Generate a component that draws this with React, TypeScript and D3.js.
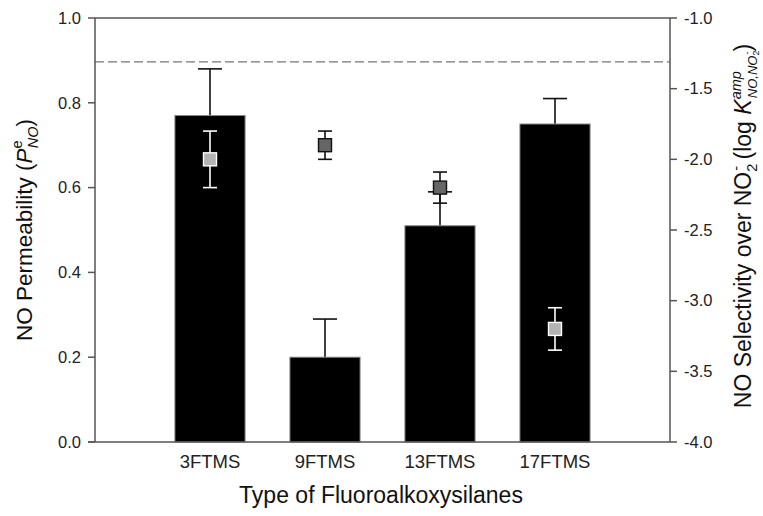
import React from "react";
import * as d3 from "d3";

const categories = ["3FTMS", "9FTMS", "13FTMS", "17FTMS"];
const permeability = [0.77, 0.2, 0.51, 0.75];
const permeabilityErr = [0.11, 0.09, 0.08, 0.06];
const selectivity = [-2.0, -1.9, -2.2, -3.2];
const selectivityErr = [0.2, 0.1, 0.11, 0.15];
const referenceSelectivity = -1.31;
const leftTicks = [0, 0.2, 0.4, 0.6, 0.8, 1.0];
const rightTicks = [-4.0, -3.5, -3.0, -2.5, -2.0, -1.5, -1.0];

const W = 763;
const H = 516;
const M = { left: 95, right: 670, top: 18, bottom: 442 };
const FONT = "'Liberation Sans', Arial, Helvetica, sans-serif";
const AXIS = "#555";

export default function App() {
  const x = d3.scaleLinear().domain([0, categories.length + 1]).range([M.left, M.right]);
  const yL = d3.scaleLinear().domain([0, 1]).range([M.bottom, M.top]);
  const yR = d3.scaleLinear().domain([-4, -1]).range([M.bottom, M.top]);
  const slot = x(1) - x(0);
  const barW = slot * 0.61;
  const capBar = 24;
  const capSq = 14;
  const sq = 13;

  return (
    <svg width={W} height={H} style={{ position: "absolute", left: 0, top: 0, background: "#fff" }} fontFamily={FONT}>
      {/* reference dashed line */}
      <line x1={M.left} x2={M.right} y1={yR(referenceSelectivity)} y2={yR(referenceSelectivity)} stroke="#777" strokeWidth={1.3} strokeDasharray="9,4" />

      {/* bars */}
      {categories.map((c, i) => {
        const cx = x(i + 1);
        const top = yL(permeability[i]);
        const errTop = yL(permeability[i] + permeabilityErr[i]);
        return (
          <g key={"b" + c}>
            <line x1={cx} x2={cx} y1={top} y2={errTop} stroke="#111" strokeWidth={1.6} />
            <line x1={cx - capBar / 2} x2={cx + capBar / 2} y1={errTop} y2={errTop} stroke="#111" strokeWidth={1.6} />
            <rect x={cx - barW / 2} y={top} width={barW} height={yL(0) - top} fill="#000" stroke="#888" strokeWidth={1} />
          </g>
        );
      })}

      {/* squares */}
      {categories.map((c, i) => {
        const cx = x(i + 1);
        const cy = yR(selectivity[i]);
        const eTop = yR(selectivity[i] + selectivityErr[i]);
        const eBot = yR(selectivity[i] - selectivityErr[i]);
        const inside = eTop > yL(permeability[i]);
        const lineC = inside ? "#fff" : "#111";
        const fill = inside ? "#b3b3b3" : "#666";
        return (
          <g key={"s" + c}>
            <line x1={cx} x2={cx} y1={eTop} y2={eBot} stroke={lineC} strokeWidth={1.6} />
            <line x1={cx - capSq / 2} x2={cx + capSq / 2} y1={eTop} y2={eTop} stroke={lineC} strokeWidth={1.6} />
            <line x1={cx - capSq / 2} x2={cx + capSq / 2} y1={eBot} y2={eBot} stroke={lineC} strokeWidth={1.6} />
            <rect x={cx - sq / 2} y={cy - sq / 2} width={sq} height={sq} fill={fill} stroke={lineC} strokeWidth={1.4} />
          </g>
        );
      })}

      {/* frame */}
      <line x1={M.left} x2={M.right} y1={M.top} y2={M.top} stroke={AXIS} strokeWidth={1.5} />
      <line x1={M.left - 7} x2={M.right} y1={M.bottom} y2={M.bottom} stroke={AXIS} strokeWidth={1.5} />
      <line x1={M.left} x2={M.left} y1={M.top} y2={M.bottom} stroke={AXIS} strokeWidth={1.5} />
      <line x1={M.right} x2={M.right} y1={M.top} y2={M.bottom} stroke={AXIS} strokeWidth={1.5} />

      {/* left ticks */}
      {leftTicks.map((t) => (
        <g key={"l" + t}>
          <line x1={M.left - 7} x2={M.left} y1={yL(t)} y2={yL(t)} stroke={AXIS} strokeWidth={1.5} />
          <text x={M.left - 14} y={yL(t)} dy="0.35em" textAnchor="end" fontSize={16.5} fill="#222">{t.toFixed(1)}</text>
        </g>
      ))}
      {/* right ticks */}
      {rightTicks.map((t) => (
        <g key={"r" + t}>
          <line x1={M.right} x2={M.right + 7} y1={yR(t)} y2={yR(t)} stroke={AXIS} strokeWidth={1.5} />
          <text x={M.right + 14} y={yR(t)} dy="0.35em" textAnchor="start" fontSize={16.5} fill="#222">{t.toFixed(1)}</text>
        </g>
      ))}
      {/* x tick labels */}
      {categories.map((c, i) => (
        <text key={"x" + c} x={x(i + 1)} y={468} textAnchor="middle" fontSize={18.5} fill="#222">{c}</text>
      ))}

      {/* axis titles */}
      <text x={381} y={503} textAnchor="middle" fontSize={23} fill="#111">Type of Fluoroalkoxysilanes</text>
      <text transform="translate(32,230) rotate(-90)" textAnchor="middle" fontSize={22.5} fill="#111">
        NO Permeability (
        <tspan fontStyle="italic">P</tspan>
        <tspan fontSize={14.5} dy={-10}>e</tspan>
        <tspan fontSize={14.5} fontStyle="italic" dx={-8} dy={16}>NO</tspan>
        <tspan dy={-6}>)</tspan>
      </text>
      <text transform="translate(751,226) rotate(-90)" textAnchor="middle" fontSize={23} fill="#111">
        NO Selectivity over NO
        <tspan fontSize={14.5} dy={6}>2</tspan>
        <tspan fontSize={14.5} dx={-7} dy={-16}>-</tspan>
        <tspan dy={10}> (log </tspan>
        <tspan fontStyle="italic">K</tspan>
        <tspan fontSize={14.5} fontStyle="italic" dy={-10}>amp</tspan>
        <tspan fontSize={13} fontStyle="italic" dx={-27} dy={16}>NO,NO</tspan>
        <tspan fontSize={9} dy={2}>2</tspan>
        <tspan fontSize={9} dx={-4} dy={-9}>-</tspan>
        <tspan dy={1}>)</tspan>
      </text>
    </svg>
  );
}
